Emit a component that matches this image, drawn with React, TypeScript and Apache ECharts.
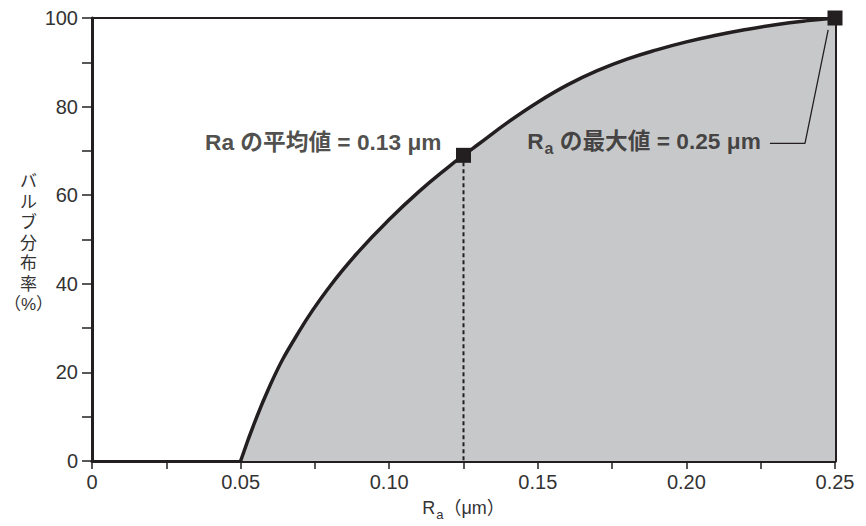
import React, { useEffect, useRef } from "react";
import * as echarts from "echarts";

// Bearing curve: Ra (µm) vs bulb distribution rate (%)
const curveRa = [0.05, 0.06, 0.07, 0.08, 0.09, 0.1, 0.11, 0.12, 0.125, 0.13, 0.14, 0.15, 0.16, 0.17, 0.18, 0.19, 0.2, 0.21, 0.22, 0.23, 0.24, 0.25];
const curvePct = [0, 17.2, 29.6, 39.4, 47.5, 54.5, 60.8, 66.4, 69, 71.5, 76.5, 81.0, 84.9, 88.1, 90.7, 92.8, 94.6, 96.1, 97.4, 98.5, 99.35, 100];

// Highlighted points
const meanPoint = [0.125, 69];
const maxPoint = [0.25, 100];

// Leader line for the maximum annotation
const leaderRa = [0.2477, 0.2399, 0.2281];
const leaderPct = [97.3, 71.7, 71.7];

// Axes
const xMin = 0;
const xMax = 0.25;
const xStep = 0.05;
const yMin = 0;
const yMax = 100;
const yStep = 20;

const meanLabel = "Ra の平均値 = 0.13 μm";
const maxLabelTail = " の最大値 = 0.25 μm";
const yName = "バ\nル\nブ\n分\n布\n率\n（%）";

const INK = "#231f20";
const FILL = "#c7c8ca";
const LATIN = "'Liberation Sans', Arial, 'Noto Sans CJK JP', sans-serif";
const CJK = "'Liberation Sans', Arial, 'Noto Sans CJK JP', sans-serif";

export default function App() {
  const ref = useRef<HTMLDivElement>(null);

  useEffect(() => {
    if (!ref.current) return;
    const chart = echarts.init(ref.current, null, { renderer: "svg" });

    const curveData = curveRa.map((x, i) => [x, curvePct[i]]);
    const leaderData = leaderRa.map((x, i) => [x, leaderPct[i]]);

    const option: any = {
      animation: false,
      backgroundColor: "#ffffff",
      grid: { left: 92, right: 31, top: 18, bottom: 65, containLabel: false },
      xAxis: [
        {
          type: "value",
          min: xMin,
          max: xMax,
          interval: xStep,
          position: "bottom",
          name: "{r|R}{s|a}{u|（μm）}",
          nameLocation: "middle",
          nameGap: 34,
          nameTextStyle: {
            rich: {
              r: { fontSize: 18, fontFamily: LATIN, color: "#333", lineHeight: 22, verticalAlign: "bottom" },
              s: { fontSize: 13, fontFamily: LATIN, color: "#333", lineHeight: 22, verticalAlign: "bottom", padding: [0, 0, -4, 1] },
              u: { fontSize: 18, fontFamily: CJK, color: "#333", lineHeight: 22, verticalAlign: "bottom" },
            },
          },
          axisLine: { show: true, onZero: false, lineStyle: { color: INK, width: 3 } },
          axisTick: { show: true, inside: false, length: 8, lineStyle: { color: INK, width: 1.5 } },
          minorTick: { show: true, splitNumber: 2, length: 8, lineStyle: { color: INK, width: 1.5 } },
          axisLabel: {
            margin: 11,
            fontSize: 20,
            fontFamily: LATIN,
            color: "#333",
            formatter: (v: number) => (v === 0 ? "0" : v.toFixed(2)),
          },
          splitLine: { show: false },
          minorSplitLine: { show: false },
        },
        {
          type: "value",
          min: xMin,
          max: xMax,
          position: "top",
          axisLine: { show: true, onZero: false, lineStyle: { color: INK, width: 2 } },
          axisTick: { show: false },
          axisLabel: { show: false },
          splitLine: { show: false },
        },
      ],
      yAxis: [
        {
          type: "value",
          min: yMin,
          max: yMax,
          interval: yStep,
          position: "left",
          axisLine: { show: true, onZero: false, lineStyle: { color: INK, width: 3 } },
          axisTick: { show: true, inside: false, length: 10, lineStyle: { color: INK, width: 1.5 } },
          minorTick: { show: true, splitNumber: 2, length: 10, lineStyle: { color: INK, width: 1.5 } },
          axisLabel: { margin: 14, fontSize: 20, fontFamily: LATIN, color: "#333" },
          splitLine: { show: false },
          minorSplitLine: { show: false },
        },
        {
          type: "value",
          min: yMin,
          max: yMax,
          position: "right",
          axisLine: { show: true, onZero: false, lineStyle: { color: INK, width: 3 } },
          axisTick: { show: false },
          axisLabel: { show: false },
          splitLine: { show: false },
        },
      ],
      graphic: [
        {
          type: "text",
          x: 28.5,
          y: 243,
          style: {
            text: yName,
            fontSize: 17,
            lineHeight: 20.5,
            fontFamily: CJK,
            fill: "#333",
            textAlign: "center",
            textVerticalAlign: "middle",
          },
        },
      ],
      series: [
        {
          type: "line",
          name: "curve",
          data: curveData,
          smooth: 0.45,
          symbol: "none",
          lineStyle: { color: INK, width: 3.5 },
          areaStyle: { color: FILL, opacity: 1 },
          z: 2,
        },
        {
          type: "line",
          name: "mean-drop",
          data: [meanPoint, [meanPoint[0], yMin]],
          symbol: "none",
          lineStyle: { color: INK, width: 2, type: [4, 3] },
          z: 3,
        },
        {
          type: "line",
          name: "leader",
          data: leaderData,
          symbol: "none",
          lineStyle: { color: INK, width: 1.3 },
          z: 3,
        },
        {
          type: "scatter",
          name: "markers",
          symbol: "rect",
          symbolSize: 15,
          itemStyle: { color: INK, opacity: 1 },
          data: [meanPoint, maxPoint],
          z: 5,
        },
        {
          type: "scatter",
          name: "labels",
          symbolSize: 0.1,
          itemStyle: { color: "rgba(0,0,0,0)" },
          silent: true,
          z: 6,
          data: [
            {
              value: meanPoint,
              label: {
                show: true,
                position: "left",
                distance: 22,
                offset: [0, -13],
                formatter: meanLabel,
                fontSize: 22.7,
                fontWeight: "bold",
                fontFamily: CJK,
                color: INK,
              },
            },
            {
              value: leaderData[leaderData.length - 1],
              label: {
                show: true,
                position: "left",
                distance: 9,
                offset: [0, -5],
                formatter: "{r|R}{s|a}{t|" + maxLabelTail + "}",
                rich: {
                  r: { fontSize: 22.7, fontWeight: "bold", fontFamily: LATIN, color: INK, lineHeight: 27, verticalAlign: "bottom" },
                  s: { fontSize: 16, fontWeight: "bold", fontFamily: LATIN, color: INK, lineHeight: 27, verticalAlign: "bottom", padding: [0, 0, -5, 1] },
                  t: { fontSize: 22.7, fontWeight: "bold", fontFamily: CJK, color: INK, lineHeight: 27, verticalAlign: "bottom" },
                },
              },
            },
          ],
        },
      ],
    };

    chart.setOption(option);
    return () => {
      chart.dispose();
    };
  }, []);

  return (
    <div
      ref={ref}
      style={{ position: "fixed", left: 0, top: 0, width: 866, height: 526, background: "#fff" }}
    />
  );
}
